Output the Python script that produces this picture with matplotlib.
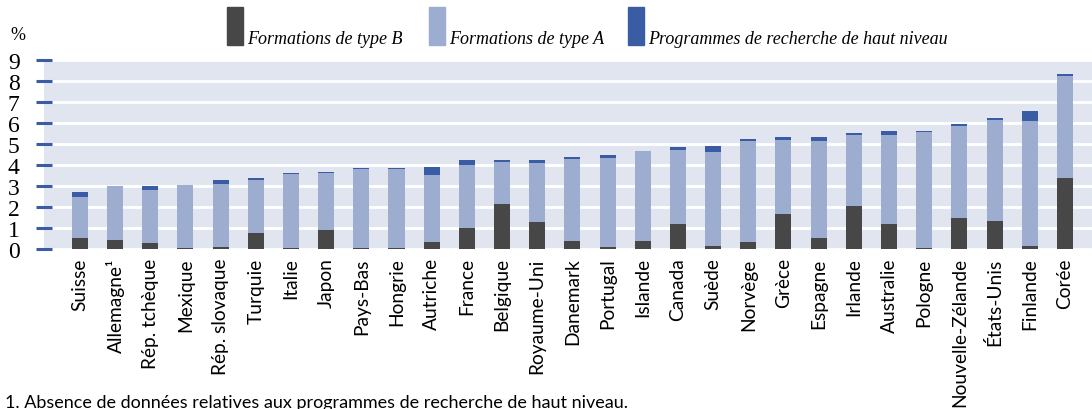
import numpy as np
import matplotlib.pyplot as plt
from matplotlib.patches import Rectangle

pays = ['Suisse', 'Allemagne¹', 'Rép. tchèque', 'Mexique', 'Rép. slovaque', 'Turquie',
        'Italie', 'Japon', 'Pays-Bas', 'Hongrie', 'Autriche', 'France', 'Belgique',
        'Royaume-Uni', 'Danemark', 'Portugal', 'Islande', 'Canada', 'Suède', 'Norvège',
        'Grèce', 'Espagne', 'Irlande', 'Australie', 'Pologne', 'Nouvelle-Zélande',
        'États-Unis', 'Finlande', 'Corée']
# cumulative tops
type_b = [0.52, 0.43, 0.29, 0.05, 0.10, 0.76, 0.05, 0.90, 0.05, 0.05, 0.33, 1.00, 2.14,
          1.29, 0.38, 0.10, 0.38, 1.19, 0.14, 0.33, 1.67, 0.52, 2.05, 1.19, 0.05, 1.48,
          1.33, 0.14, 3.38]
top_a = [2.49, 3.00, 2.81, 3.05, 3.10, 3.29, 3.57, 3.62, 3.81, 3.81, 3.52, 4.00, 4.14,
         4.10, 4.29, 4.33, 4.67, 4.71, 4.62, 5.14, 5.19, 5.14, 5.43, 5.43, 5.57, 5.86,
         6.14, 6.10, 8.24]
total = [2.71, 3.00, 3.00, 3.05, 3.29, 3.38, 3.63, 3.67, 3.86, 3.86, 3.90, 4.24, 4.24,
         4.24, 4.38, 4.48, 4.67, 4.86, 4.90, 5.24, 5.33, 5.33, 5.52, 5.62, 5.62, 5.95,
         6.24, 6.57, 8.33]

type_b = np.array(type_b)
type_a = np.array(top_a) - type_b
recherche = np.array(total) - np.array(top_a)

c_b = '#474747'
c_a = '#9dadcf'
c_r = '#3a5ca5'

fig = plt.figure(figsize=(10.92, 4.10), dpi=100)
ax = fig.add_axes([44/1092, 1 - 250/410, 1 - 44/1092, 189/410])
ax.set_facecolor('#e1e5f0')

x = np.arange(len(pays))
w = 0.455
ax.bar(x, type_b, w, color=c_b, zorder=3)
ax.bar(x, type_a, w, bottom=type_b, color=c_a, zorder=3)
ax.bar(x, recherche, w, bottom=type_b + type_a, color=c_r, zorder=3)

ax.set_xlim(-1.02, 28.77)
ax.set_ylim(0, 9)
ax.set_yticks(range(10))
ax.yaxis.grid(True, color='white', lw=2, zorder=1)
ax.set_axisbelow(True)
for s in ax.spines.values():
    s.set_visible(False)
ax.tick_params(axis='y', direction='inout', length=11, width=2.2, color=c_r,
               labelsize=17, pad=12)
for t in ax.get_yticklabels():
    t.set_family('Liberation Serif')
ax.set_xticks(x)
ax.set_xticklabels(pays, rotation=90, family='Lato', fontsize=13.8)
ax.tick_params(axis='x', length=0, pad=6)

fig.text(10/1092, 1 - 36/410, '%', family='Liberation Serif', fontsize=13, va='center')

# legend drawn by hand: tall swatch with label at its foot
leg = [('Formations de type B', c_b, 227),
       ('Formations de type A', c_a, 429),
       ('Programmes de recherche de haut niveau', c_r, 628)]
for lab, col, px in leg:
    fig.add_artist(Rectangle((px/1092, 1 - 46/410), 16/1092, 38/410,
                             transform=fig.transFigure, color=col))
    fig.text((px + 20)/1092, 1 - 44/410, lab, family='Liberation Serif',
             style='italic', fontsize=13, va='baseline')

fig.text(5/1092, 1 - 403/410, '1. Absence de données relatives aux programmes de recherche de haut niveau.',
         family='Lato', fontsize=13, va='center')

fig.savefig('out.png', dpi=100)
